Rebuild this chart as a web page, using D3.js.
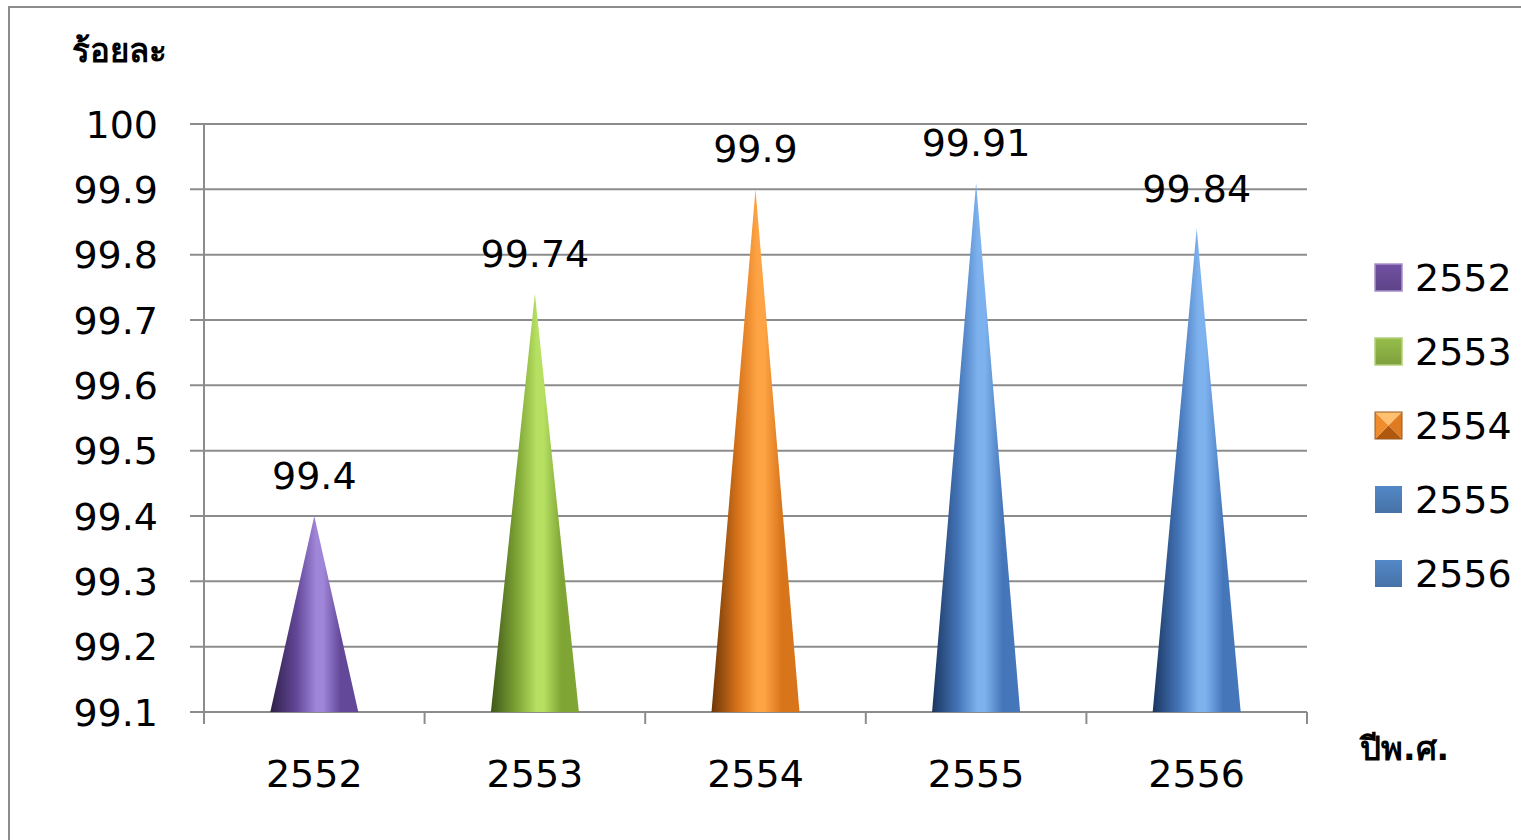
<!DOCTYPE html>
<html><head><meta charset="utf-8">
<script src="https://cdn.jsdelivr.net/npm/d3@7"></script>
<style>body{margin:0;background:#fff;overflow:hidden}svg{display:block}</style>
</head><body>
<script>
const categories = ["2552","2553","2554","2555","2556"];
const values = [99.4, 99.74, 99.9, 99.91, 99.84];
const yTicks = [99.1,99.2,99.3,99.4,99.5,99.6,99.7,99.8,99.9,100];
const yTitle = "ร้อยละ";
const xTitle = "ปีพ.ศ.";
const palettes = [
  {dark:"#2e2048", mid:"#634798", light:"#a086d8", leg:"#6b4c9a", edge:"#a890cc"},
  {dark:"#3f5818", mid:"#7fa535", light:"#b6e062", leg:"#8fb446", edge:"#b2d27a"},
  {dark:"#6e3608", mid:"#d8741a", light:"#ffa444", leg:"#e8852a", edge:"#9a5a1a"},
  {dark:"#1a3660", mid:"#4576ba", light:"#7eb2ee", leg:"#4f81bd", edge:"#4f81bd"},
  {dark:"#1a3660", mid:"#4576ba", light:"#7eb2ee", leg:"#4f81bd", edge:"#4f81bd"}
];
const W=1521,H=840;
const svg=d3.select("body").append("svg").attr("width",W).attr("height",H);
const font="'DejaVu Sans', 'Noto Sans', sans-serif";
svg.append("rect").attr("x",9).attr("y",7).attr("width",1700).attr("height",1000)
  .attr("fill","none").attr("stroke","#8c8c8c").attr("stroke-width",2);
const defs=svg.append("defs");
palettes.forEach((p,i)=>{
  const g=defs.append("linearGradient").attr("id","cg"+i).attr("x1","0").attr("x2","1").attr("y1","0").attr("y2","0");
  [[0,p.dark],[0.3,p.mid],[0.52,p.light],[0.6,p.light],[0.8,p.mid],[1,p.mid]].forEach(s=>g.append("stop").attr("offset",s[0]).attr("stop-color",s[1]));
  const lg=defs.append("linearGradient").attr("id","lg"+i).attr("x1","0").attr("x2","0").attr("y1","0").attr("y2","1");
  lg.append("stop").attr("offset",0).attr("stop-color",d3.color(p.leg).brighter(0.15));
  lg.append("stop").attr("offset",1).attr("stop-color",d3.color(p.leg).darker(0.35));
});
const x=d3.scaleBand().domain(categories).range([204,1307]).paddingInner(0).paddingOuter(0);
const y=d3.scaleLinear().domain([99.1,100]).range([712,124]);
svg.append("g").selectAll("line").data(yTicks).join("line")
  .attr("x1",190).attr("x2",1307).attr("y1",d=>y(d)).attr("y2",d=>y(d))
  .attr("stroke","#8c8c8c").attr("stroke-width",2);
svg.append("line").attr("x1",204).attr("x2",204).attr("y1",124).attr("y2",724).attr("stroke","#8c8c8c").attr("stroke-width",2);
const xb=[...categories.map(c=>x(c)),1307];
svg.append("g").selectAll("line").data(xb).join("line")
  .attr("x1",d=>d).attr("x2",d=>d).attr("y1",712).attr("y2",724).attr("stroke","#8c8c8c").attr("stroke-width",2);
svg.append("g").selectAll("text").data(yTicks).join("text")
  .attr("x",158).attr("y",d=>y(d)).attr("dy","0.36em").attr("text-anchor","end")
  .attr("font-family",font).attr("font-size",38).attr("fill","#000")
  .text(d=>d===100?"100":d3.format(".1f")(d));
svg.append("g").selectAll("text").data(categories).join("text")
  .attr("x",d=>x(d)+x.bandwidth()/2).attr("y",787).attr("text-anchor","middle")
  .attr("font-family",font).attr("font-size",38).attr("fill","#000").text(d=>d);
const hw=44;
svg.append("g").selectAll("path").data(values).join("path")
  .attr("d",(v,i)=>{const cx=x(categories[i])+x.bandwidth()/2;return `M${cx-hw},${y(99.1)}L${cx},${y(v)}L${cx+hw},${y(99.1)}Z`;})
  .attr("fill",(v,i)=>`url(#cg${i})`);
svg.append("g").selectAll("text").data(values).join("text")
  .attr("x",(v,i)=>x(categories[i])+x.bandwidth()/2).attr("y",v=>y(v)-27).attr("text-anchor","middle")
  .attr("font-family",font).attr("font-size",38).attr("fill","#000").text(v=>String(v));
const lg=svg.append("g");
categories.forEach((c,i)=>{
  const cy=277+i*74, x0=1375, y0=cy-13, s=27;
  if(i===2){
    const p=palettes[i];
    const cxm=x0+s/2, cym=y0+s/2;
    const tri=[[[x0,y0],[x0+s,y0],[cxm,cym],"#ffc070"],[[x0+s,y0],[x0+s,y0+s],[cxm,cym],"#e07a20"],
               [[x0,y0+s],[x0+s,y0+s],[cxm,cym],"#b0580e"],[[x0,y0],[x0,y0+s],[cxm,cym],"#f08c2c"]];
    tri.forEach(t=>lg.append("path").attr("d",`M${t[0]}L${t[1]}L${t[2]}Z`).attr("fill",t[3]));
    lg.append("rect").attr("x",x0).attr("y",y0).attr("width",s).attr("height",s).attr("fill","none").attr("stroke",p.edge).attr("stroke-width",1);
  } else {
    lg.append("rect").attr("x",x0).attr("y",y0).attr("width",s).attr("height",s).attr("fill",`url(#lg${i})`)
      .attr("stroke",palettes[i].edge).attr("stroke-width",i<2?1.5:0);
  }
  lg.append("text").attr("x",1415).attr("y",cy).attr("dy","0.36em").attr("font-family",font).attr("font-size",38).text(c);
});
svg.append("text").attr("x",72).attr("y",62).attr("font-family",font).attr("font-weight","bold").attr("font-size",33).text(yTitle);
svg.append("text").attr("x",1360).attr("y",760).attr("font-family",font).attr("font-weight","bold").attr("font-size",33).text(xTitle);
</script>
</body></html>
